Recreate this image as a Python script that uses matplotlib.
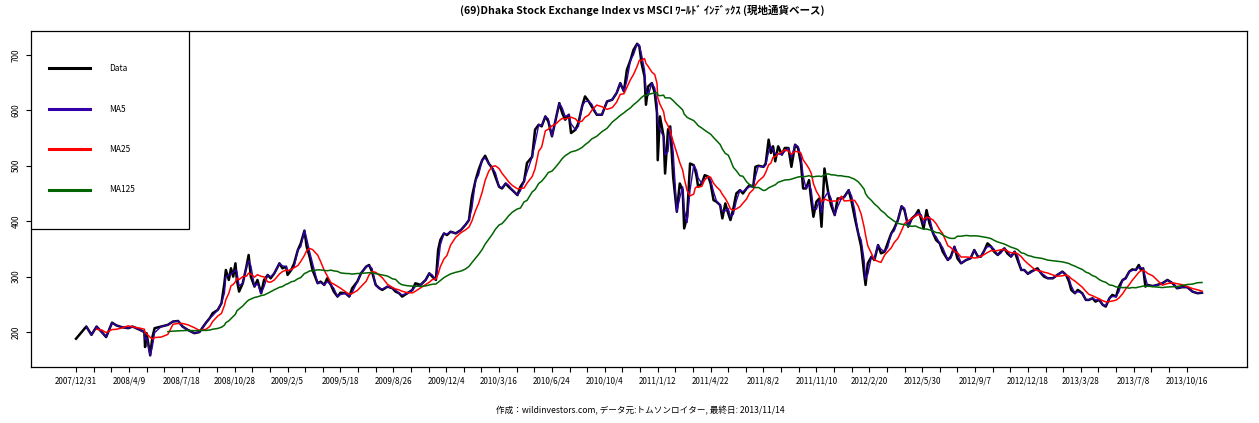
import numpy as np
import pandas as pd
import matplotlib
matplotlib.use('Agg')
import matplotlib.pyplot as plt
from matplotlib.lines import Line2D
from matplotlib.patches import Rectangle

plt.rcParams['font.family'] = ['Noto Sans CJK JP', 'DejaVu Sans']

# trading-day index (weekdays since 2007/12/31) and index level
day_idx = [0, 14, 21, 28, 35, 41, 49, 55, 62, 71,
           77, 87, 93, 94, 96, 101, 104, 107, 116, 125,
           132, 139, 145, 152, 161, 168, 177, 182, 186, 193,
           198, 202, 204, 208, 211, 214, 217, 219, 222, 227,
           232, 235, 238, 243, 247, 252, 256, 261, 265, 270,
           277, 281, 286, 288, 293, 297, 302, 306, 311, 314,
           318, 322, 329, 333, 338, 342, 347, 351, 356, 360,
           367, 372, 376, 383, 388, 395, 399, 403, 408, 413,
           417, 424, 431, 435, 440, 444, 451, 458, 462, 469,
           476, 481, 485, 490, 493, 496, 501, 505, 510, 517,
           524, 530, 535, 539, 544, 548, 553, 557, 562, 567,
           571, 576, 580, 585, 589, 594, 601, 605, 610, 614,
           621, 625, 630, 634, 639, 643, 648, 653, 658, 662,
           666, 671, 674, 680, 684, 689, 693, 698, 702, 709,
           716, 723, 730, 736, 741, 746, 750, 755, 759, 764,
           767, 770, 774, 776, 779, 784, 788, 791, 792, 795,
           800, 802, 806, 809, 813, 818, 822, 826, 828, 832,
           836, 841, 843, 845, 847, 852, 856, 861, 864, 868,
           872, 877, 880, 884, 888, 891, 895, 899, 904, 908,
           913, 917, 922, 925, 929, 936, 939, 943, 946, 949,
           952, 956, 961, 965, 970, 974, 979, 983, 987, 990,
           994, 998, 1001, 1004, 1008, 1012, 1015, 1019, 1024, 1028,
           1033, 1037, 1042, 1046, 1052, 1056, 1060, 1065, 1069, 1073,
           1075, 1078, 1083, 1087, 1092, 1096, 1101, 1105, 1110, 1114,
           1119, 1124, 1128, 1133, 1138, 1143, 1147, 1151, 1154, 1158,
           1162, 1167, 1171, 1176, 1180, 1187, 1191, 1196, 1200, 1205,
           1212, 1218, 1223, 1228, 1232, 1237, 1241, 1246, 1250, 1255,
           1259, 1264, 1268, 1273, 1278, 1282, 1287, 1291, 1296, 1300,
           1305, 1309, 1314, 1318, 1323, 1330, 1336, 1343, 1348, 1352,
           1355, 1360, 1364, 1370, 1375, 1379, 1384, 1388, 1393, 1398,
           1402, 1407, 1411, 1416, 1420, 1425, 1429, 1434, 1438, 1443,
           1447, 1450, 1453, 1456, 1459, 1466, 1472, 1479, 1486, 1493,
           1499, 1506, 1513, 1520, 1527, 1533]

close = [188, 210, 195, 210, 200, 191, 217, 212, 209, 207,
         210, 204, 200, 173, 198, 158, 191, 207, 210, 213,
         219, 220, 210, 204, 198, 200, 217, 225, 234, 240,
         252, 288, 312, 294, 315, 300, 324, 294, 273, 288,
         318, 339, 300, 282, 294, 270, 294, 303, 297, 306,
         324, 315, 318, 303, 312, 324, 348, 360, 383, 354,
         336, 312, 288, 291, 285, 297, 285, 273, 264, 271,
         270, 264, 279, 291, 306, 318, 321, 309, 285, 279,
         276, 282, 279, 273, 270, 264, 270, 276, 288, 285,
         294, 306, 300, 294, 348, 366, 378, 375, 381, 378,
         384, 393, 402, 444, 474, 492, 510, 518, 504, 495,
         480, 462, 459, 468, 462, 456, 447, 462, 472, 505,
         516, 565, 574, 571, 589, 580, 553, 583, 613, 595,
         583, 592, 559, 565, 577, 607, 625, 616, 607, 592,
         592, 616, 619, 631, 649, 634, 673, 691, 709, 720,
         715, 685, 661, 610, 643, 649, 631, 595, 510, 589,
         553, 486, 565, 571, 480, 417, 468, 456, 387, 408,
         504, 501, 492, 480, 462, 468, 483, 480, 468, 438,
         435, 429, 405, 432, 414, 402, 423, 450, 456, 450,
         459, 465, 462, 498, 500, 498, 504, 547, 523, 535,
         508, 535, 520, 532, 532, 498, 538, 532, 504, 459,
         459, 474, 438, 408, 435, 441, 390, 495, 453, 429,
         411, 441, 441, 444, 456, 435, 408, 378, 354, 306,
         285, 324, 336, 330, 357, 342, 345, 360, 378, 387,
         402, 427, 420, 390, 405, 411, 420, 402, 387, 420,
         396, 378, 366, 360, 345, 330, 336, 354, 333, 324,
         330, 333, 348, 336, 336, 348, 360, 354, 345, 339,
         345, 351, 342, 336, 345, 330, 312, 312, 305, 309,
         312, 315, 306, 300, 297, 297, 303, 309, 303, 291,
         276, 270, 276, 270, 258, 258, 261, 255, 258, 249,
         246, 261, 267, 264, 282, 294, 297, 309, 313, 312,
         321, 312, 315, 282, 285, 283, 285, 288, 294, 288,
         279, 281, 281, 273, 270, 271]

n_days = 1534
tick_labels = ['2007/12/31', '2008/4/9', '2008/7/18', '2008/10/28', '2009/2/5',
               '2009/5/18', '2009/8/26', '2009/12/4', '2010/3/16', '2010/6/24',
               '2010/10/4', '2011/1/12', '2011/4/22', '2011/8/2', '2011/11/10',
               '2012/2/20', '2012/5/30', '2012/9/7', '2012/12/18', '2013/3/28',
               '2013/7/8', '2013/10/16']

title = '(69)Dhaka Stock Exchange Index vs MSCI ﾜｰﾙﾄﾞ ｲﾝﾃﾞｯｸｽ (現地通貨ベース)'
credit = '作成：wildinvestors.com, データ元:トムソンロイター, 最終日: 2013/11/14'

# moving averages over trading-day windows
x = np.array(day_idx)
s = pd.Series(close, index=pd.to_datetime(day_idx, unit='D'), dtype=float)
ma5 = s.rolling('5D').mean().where(x >= 4).values
ma25 = s.rolling('25D').mean().where(x >= 24).values
ma125 = s.rolling('125D').mean().where(x >= 124).values

c_ma5 = '#3300aa'
c_ma25 = '#ff0000'
c_ma125 = '#006400'

fig = plt.figure(figsize=(12.59, 4.23), dpi=100)
ax = fig.add_axes([31 / 1259, 56 / 423, 1216 / 1259, 336 / 423])

ax.plot(x, close, color='black', lw=1.8)
ax.plot(x, ma5, color=c_ma5, lw=1.0)
ax.plot(x, ma25, color=c_ma25, lw=1.1)
ax.plot(x, ma125, color=c_ma125, lw=1.1)

ax.set_xlim(-0.04 * (n_days - 1), 1.04 * (n_days - 1))
ax.set_ylim(137, 743)

ticks = np.arange(0, n_days, 24)
labels = [''] * len(ticks)
labels[::3] = tick_labels
ax.set_xticks(ticks)
ax.set_xticklabels(labels)
ax.set_yticks(range(200, 701, 100))
ax.tick_params(axis='x', direction='out', length=3.5, width=0.8, labelsize=5.8, pad=3)
ax.tick_params(axis='y', direction='out', length=3.5, width=0.8, labelsize=5.8, pad=4)
for lab in ax.get_yticklabels():
    lab.set_rotation(90)
    lab.set_va('center')
for sp in ax.spines.values():
    sp.set_linewidth(0.9)

# legend box
ax.add_patch(Rectangle((0, 0.411), 0.130, 0.589, transform=ax.transAxes,
                       fc='white', ec='black', lw=0.9, zorder=5))
handles = [Line2D([], [], color='black', lw=2.2),
           Line2D([], [], color=c_ma5, lw=2.2),
           Line2D([], [], color=c_ma25, lw=2.2),
           Line2D([], [], color=c_ma125, lw=2.2)]
leg = ax.legend(handles, ['Data', 'MA5', 'MA25', 'MA125'], loc='upper left',
                bbox_to_anchor=(18 / 1216, 1 - 33 / 336), frameon=False,
                borderpad=0, borderaxespad=0, handlelength=4.9, handletextpad=2.3,
                labelspacing=3.78, fontsize=6)
leg.set_zorder(6)

fig.text(642 / 1259, 1 - 10 / 423, title, ha='center', va='center',
         fontsize=7.6, fontweight='bold')
fig.text(640 / 1259, 1 - 411 / 423, credit, ha='center', va='center', fontsize=6.2)

fig.savefig('out.png', dpi=100)
